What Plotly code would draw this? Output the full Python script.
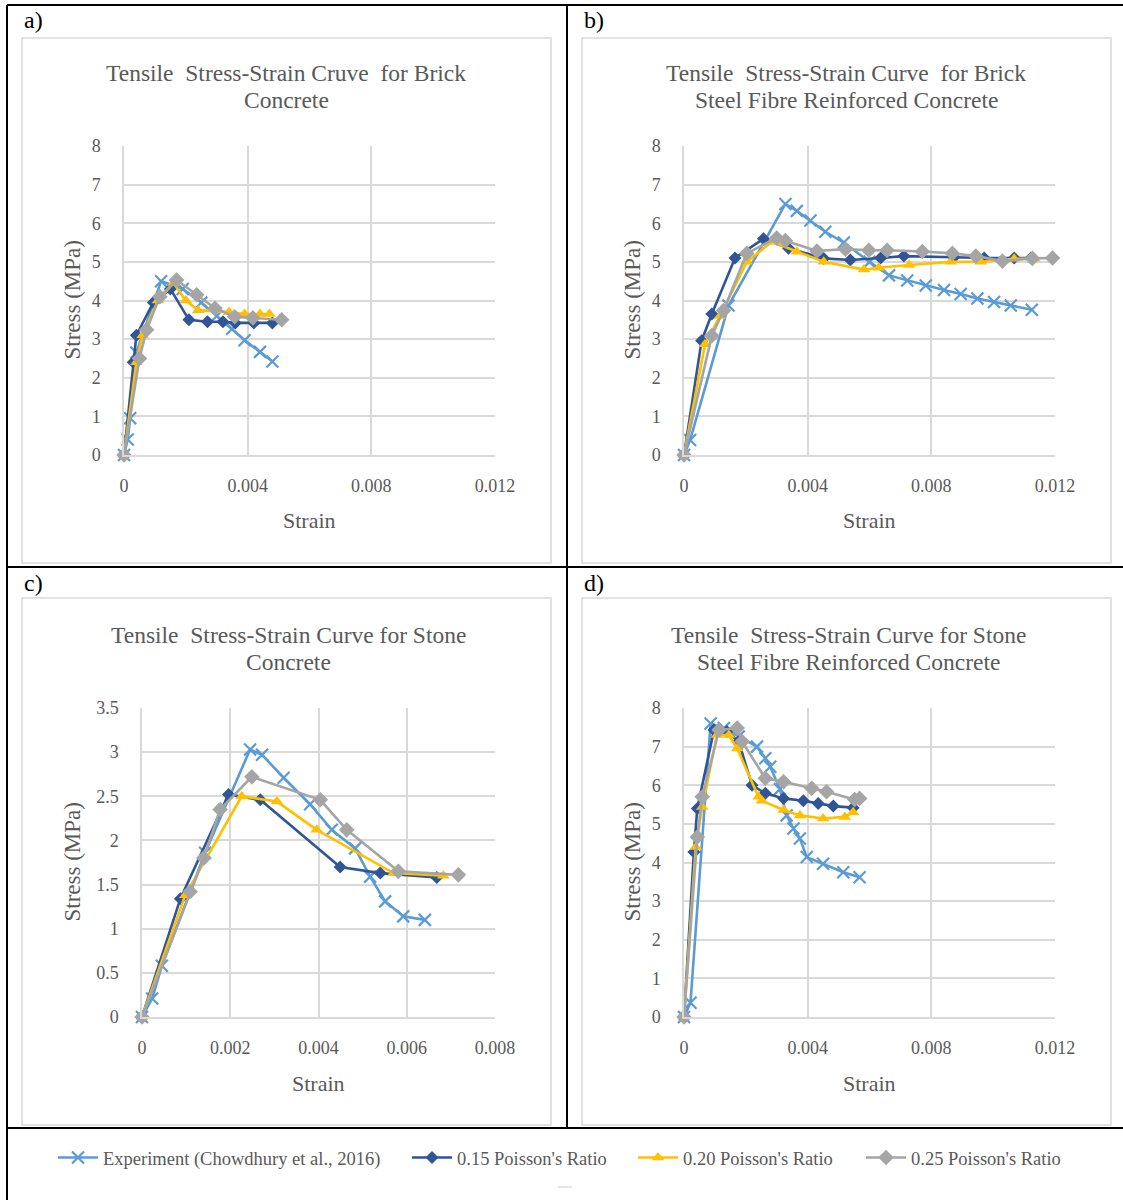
import plotly.graph_objects as go

# ---- series data: (strain, stress in MPa) ----
series_names = ["Experiment (Chowdhury et al., 2016)", "0.15 Poisson's Ratio",
                "0.20 Poisson's Ratio", "0.25 Poisson's Ratio"]

# a) Brick concrete
a_exp_strain = [0, 0.00012, 0.0002, 0.0004, 0.0012, 0.0019, 0.0025, 0.0030, 0.0035, 0.0039, 0.0044, 0.0048]
a_exp_stress = [0, 0.4, 0.95, 2.65, 4.5, 4.3, 3.95, 3.6, 3.27, 2.97, 2.67, 2.42]
a_015_strain = [0, 0.0003, 0.0004, 0.00095, 0.0015, 0.0021, 0.0027, 0.0032, 0.0036, 0.0042, 0.0048]
a_015_stress = [0, 2.4, 3.1, 3.95, 4.3, 3.5, 3.45, 3.45, 3.42, 3.42, 3.42]
a_020_strain = [0, 0.0004, 0.0006, 0.0011, 0.0016, 0.0020, 0.0024, 0.0034, 0.0039, 0.0044, 0.0047]
a_020_stress = [0, 2.4, 3.1, 4.0, 4.45, 4.0, 3.75, 3.7, 3.65, 3.65, 3.65]
a_025_strain = [0, 0.0005, 0.00073, 0.00116, 0.0017, 0.00235, 0.00294, 0.00358, 0.00417, 0.0051]
a_025_stress = [0, 2.5, 3.24, 4.1, 4.53, 4.15, 3.8, 3.58, 3.55, 3.5]

# b) Brick steel fibre reinforced concrete
b_exp_strain = [0, 0.0002, 0.00144, 0.00328, 0.00365, 0.00409, 0.00457, 0.00517, 0.0060, 0.00663,
                0.00722, 0.00782, 0.00841, 0.00895, 0.00949, 0.01003, 0.01057, 0.01125]
b_exp_stress = [0, 0.39, 3.87, 6.5, 6.32, 6.07, 5.78, 5.5, 5.0, 4.65,
                4.52, 4.39, 4.27, 4.17, 4.05, 3.96, 3.87, 3.76]
b_015_strain = [0, 0.00057, 0.0009, 0.00165, 0.00257, 0.00338, 0.00452, 0.00538, 0.00636, 0.00711,
                0.00873, 0.00971, 0.01068, 0.01122]
b_015_stress = [0, 2.96, 3.65, 5.1, 5.6, 5.35, 5.09, 5.05, 5.1, 5.15, 5.12, 5.1, 5.1, 5.1]
b_020_strain = [0, 0.00068, 0.00117, 0.00203, 0.00284, 0.00365, 0.00452, 0.00582, 0.0063, 0.00728,
                0.00863, 0.0096, 0.01068, 0.01133]
b_020_stress = [0, 2.87, 3.6, 5.0, 5.52, 5.26, 5.0, 4.8, 4.85, 4.92, 5.0, 5.0, 5.08, 5.08]
b_025_strain = [0, 0.0009, 0.00128, 0.00203, 0.003, 0.00328, 0.0043, 0.00522, 0.00598, 0.00657,
                0.00771, 0.00868, 0.00944, 0.0103, 0.01127, 0.01192]
b_025_stress = [0, 3.09, 3.74, 5.22, 5.62, 5.55, 5.28, 5.33, 5.3, 5.3, 5.27, 5.22, 5.15, 5.02, 5.09, 5.1]

# c) Stone concrete
c_exp_strain = [0, 0.00023, 0.00045, 0.00143, 0.00245, 0.00272, 0.00321, 0.00381, 0.0043, 0.00483,
                0.00517, 0.00551, 0.00592, 0.00641]
c_exp_stress = [0, 0.21, 0.58, 1.86, 3.03, 2.97, 2.71, 2.41, 2.12, 1.91, 1.59, 1.31, 1.14, 1.10]
c_015_strain = [0, 0.00087, 0.00196, 0.00268, 0.00449, 0.0054, 0.00668]
c_015_stress = [0, 1.34, 2.52, 2.46, 1.70, 1.63, 1.58]
c_020_strain = [0, 0.00098, 0.00226, 0.00306, 0.00396, 0.0057, 0.00683]
c_020_stress = [0, 1.38, 2.5, 2.44, 2.12, 1.63, 1.6]
c_025_strain = [0, 0.00109, 0.0014, 0.00177, 0.00249, 0.00404, 0.00464, 0.00581, 0.00717]
c_025_stress = [0, 1.42, 1.8, 2.35, 2.72, 2.46, 2.12, 1.65, 1.61]

# d) Stone steel fibre reinforced concrete
d_exp_strain = [0, 0.00021, 0.00086, 0.00129, 0.00177, 0.00236, 0.00263, 0.00279, 0.0031, 0.00332,
                0.00354, 0.00375, 0.00397, 0.0045, 0.00515, 0.00568]
d_exp_stress = [0, 0.37, 7.6, 7.48, 7.26, 7.0, 6.7, 6.48, 5.9, 5.22, 4.88, 4.62, 4.14, 3.97, 3.75, 3.62]
d_015_strain = [0, 0.00032, 0.00043, 0.00097, 0.00139, 0.00177, 0.0022, 0.00263, 0.00322, 0.00386,
                0.00434, 0.00483, 0.00547]
d_015_stress = [0, 4.27, 5.4, 7.43, 7.39, 7.13, 6.0, 5.79, 5.66, 5.6, 5.53, 5.46, 5.42]
d_020_strain = [0, 0.00038, 0.00059, 0.00107, 0.00145, 0.00172, 0.00241, 0.00252, 0.00322, 0.00375,
                0.0045, 0.0052, 0.00547]
d_020_stress = [0, 4.4, 5.44, 7.3, 7.3, 6.95, 5.7, 5.6, 5.36, 5.22, 5.14, 5.18, 5.3]
d_025_strain = [0, 0.00043, 0.00059, 0.00113, 0.00172, 0.00188, 0.00263, 0.00322, 0.00413, 0.00461,
                0.00552, 0.00568]
d_025_stress = [0, 4.66, 5.7, 7.43, 7.48, 7.13, 6.18, 6.09, 5.92, 5.83, 5.63, 5.66]

# ---- axis ticks ----
x_ticks_wide = [0, 0.004, 0.008, 0.012]
x_labels_wide = ["0", "0.004", "0.008", "0.012"]
x_ticks_narrow = [0, 0.002, 0.004, 0.006, 0.008]
x_labels_narrow = ["0", "0.002", "0.004", "0.006", "0.008"]
y_ticks_8 = [0, 1, 2, 3, 4, 5, 6, 7, 8]
y_ticks_35 = [0, 0.5, 1, 1.5, 2, 2.5, 3, 3.5]
y_labels_35 = ["0", "0.5", "1", "1.5", "2", "2.5", "3", "3.5"]

# two-line chart titles
panel_titles = [
    ("Tensile  Stress-Strain Cruve  for Brick", "Concrete"),
    ("Tensile  Stress-Strain Curve  for Brick", "Steel Fibre Reinforced Concrete"),
    ("Tensile  Stress-Strain Curve for Stone", "Concrete"),
    ("Tensile  Stress-Strain Curve for Stone", "Steel Fibre Reinforced Concrete"),
]
panel_letters = ["a)", "b)", "c)", "d)"]

W, H = 1123, 1200
SERIF = "Liberation Serif, Times New Roman, serif"
TXT = "#595959"
GRID = "#d9d9d9"

styles = [
    dict(color="#5B9BD5", symbol="x-thin", size=12, mline=2.2),
    dict(color="#2F5597", symbol="diamond", size=10, mline=0),
    dict(color="#FFC000", symbol="triangle-up", size=11, mline=0),
    dict(color="#A5A5A5", symbol="diamond", size=12, mline=0),
]
# width reserved for each legend entry's text
legend_widths = [299, 171, 173, 150]

panels = [
    dict(data=[(a_exp_strain, a_exp_stress), (a_015_strain, a_015_stress),
               (a_020_strain, a_020_stress), (a_025_strain, a_025_stress)],
         px=(124, 495), py=(146, 455), xr=[0, 0.012], xt=(x_ticks_wide, x_labels_wide),
         yr=[0, 8], yt=(y_ticks_8, [str(v) for v in y_ticks_8]),
         box=(22, 38, 551, 563), title_x=286, title_y=(73, 100), strain_y=521, stress_x=72,
         letter=(22, 20)),
    dict(data=[(b_exp_strain, b_exp_stress), (b_015_strain, b_015_stress),
               (b_020_strain, b_020_stress), (b_025_strain, b_025_stress)],
         px=(684, 1055), py=(146, 455), xr=[0, 0.012], xt=(x_ticks_wide, x_labels_wide),
         yr=[0, 8], yt=(y_ticks_8, [str(v) for v in y_ticks_8]),
         box=(582, 38, 1111, 563), title_x=846, title_y=(73, 100), strain_y=521, stress_x=632,
         letter=(582, 20)),
    dict(data=[(c_exp_strain, c_exp_stress), (c_015_strain, c_015_stress),
               (c_020_strain, c_020_stress), (c_025_strain, c_025_stress)],
         px=(142, 495), py=(708, 1017), xr=[0, 0.008], xt=(x_ticks_narrow, x_labels_narrow),
         yr=[0, 3.5], yt=(y_ticks_35, y_labels_35),
         box=(22, 598, 551, 1125), title_x=288, title_y=(635, 662), strain_y=1083, stress_x=72,
         letter=(22, 583)),
    dict(data=[(d_exp_strain, d_exp_stress), (d_015_strain, d_015_stress),
               (d_020_strain, d_020_stress), (d_025_strain, d_025_stress)],
         px=(684, 1055), py=(708, 1017), xr=[0, 0.012], xt=(x_ticks_wide, x_labels_wide),
         yr=[0, 8], yt=(y_ticks_8, [str(v) for v in y_ticks_8]),
         box=(582, 598, 1111, 1125), title_x=848, title_y=(635, 662), strain_y=1083, stress_x=632,
         letter=(582, 583)),
]


def fx(p):
    return p / W


def fy(p):
    return 1 - p / H


fig = go.Figure()
shapes = []
annotations = []

for i, pan in enumerate(panels):
    n = "" if i == 0 else str(i + 1)
    for k, (xs, ys) in enumerate(pan["data"]):
        st = styles[k]
        marker = dict(symbol=st["symbol"], size=st["size"], color=st["color"])
        if st["mline"]:
            marker["line"] = dict(color=st["color"], width=st["mline"])
        fig.add_trace(go.Scatter(
            x=xs, y=ys, mode="lines+markers", name=series_names[k],
            line=dict(color=st["color"], width=2.6), marker=marker,
            xaxis="x" + n, yaxis="y" + n, cliponaxis=False,
            legendgroup=series_names[k], showlegend=(i == 0),
            legendwidth=legend_widths[k],
        ))
    common = dict(showgrid=True, gridcolor=GRID, gridwidth=1.5, zeroline=False,
                  showline=True, linecolor=GRID, linewidth=1.5, ticks="", automargin=False,
                  tickfont=dict(family=SERIF, size=18, color=TXT), fixedrange=True)
    fig.update_layout(**{
        "xaxis" + n: dict(domain=[fx(pan["px"][0]), fx(pan["px"][1])], range=pan["xr"],
                          tickmode="array", tickvals=pan["xt"][0], ticktext=pan["xt"][1],
                          anchor="y" + n, ticklabelstandoff=14, **common),
        "yaxis" + n: dict(domain=[fy(pan["py"][1]), fy(pan["py"][0])], range=pan["yr"],
                          tickmode="array", tickvals=pan["yt"][0], ticktext=pan["yt"][1],
                          anchor="x" + n, ticklabelstandoff=18, **common),
    })
    x0, y0, x1, y1 = pan["box"]
    shapes.append(dict(type="rect", xref="paper", yref="paper", x0=fx(x0), x1=fx(x1),
                       y0=fy(y1), y1=fy(y0), line=dict(color=GRID, width=1.5), layer="below"))
    for line_text, ty in zip(panel_titles[i], pan["title_y"]):
        annotations.append(dict(text=line_text, x=fx(pan["title_x"]), y=fy(ty),
                                xref="paper", yref="paper", showarrow=False, xanchor="center",
                                yanchor="middle", font=dict(family=SERIF, size=23.5, color=TXT)))
    annotations.append(dict(text="Strain", x=fx((pan["px"][0] + pan["px"][1]) / 2),
                            y=fy(pan["strain_y"]), xref="paper", yref="paper", showarrow=False,
                            xanchor="center", yanchor="middle",
                            font=dict(family=SERIF, size=22, color=TXT)))
    annotations.append(dict(text="Stress (MPa)", x=fx(pan["stress_x"]),
                            y=fy((pan["py"][0] + pan["py"][1]) / 2), xref="paper", yref="paper",
                            showarrow=False, textangle=-90, xanchor="center", yanchor="middle",
                            font=dict(family=SERIF, size=23, color=TXT)))
    lx, ly = pan["letter"]
    annotations.append(dict(text=panel_letters[i], x=fx(lx), y=fy(ly), xref="paper", yref="paper",
                            showarrow=False, xanchor="left", yanchor="middle",
                            font=dict(family=SERIF, size=24, color="black")))

# table rules around the four panels
for (x0, y0, x1, y1) in [(7, 5, W, 5), (7, 567, W, 567), (7, 1128, W, 1128),
                         (7, 5, 7, H), (567, 5, 567, 1128)]:
    shapes.append(dict(type="line", xref="paper", yref="paper", x0=fx(x0), x1=fx(x1),
                       y0=fy(y0), y1=fy(y1), line=dict(color="black", width=2)))
shapes.append(dict(type="line", xref="paper", yref="paper", x0=fx(558), x1=fx(572),
                   y0=fy(1187), y1=fy(1187), line=dict(color="#cccccc", width=1)))

fig.update_layout(
    width=W, height=H, autosize=False,
    margin=dict(l=0, r=0, t=0, b=0, pad=0, autoexpand=False),
    paper_bgcolor="white", plot_bgcolor="white",
    shapes=shapes, annotations=annotations,
    showlegend=True,
    legend=dict(orientation="h", x=fx(53), xanchor="left", y=fy(1158), yanchor="middle",
                font=dict(family=SERIF, size=18.5, color=TXT), itemwidth=40,
                bgcolor="rgba(0,0,0,0)", tracegroupgap=0),
)

fig.write_html(
    "out.html",
    config={"displayModeBar": False},
    post_script="document.body.style.margin='0';document.documentElement.style.overflow='hidden';",
)
